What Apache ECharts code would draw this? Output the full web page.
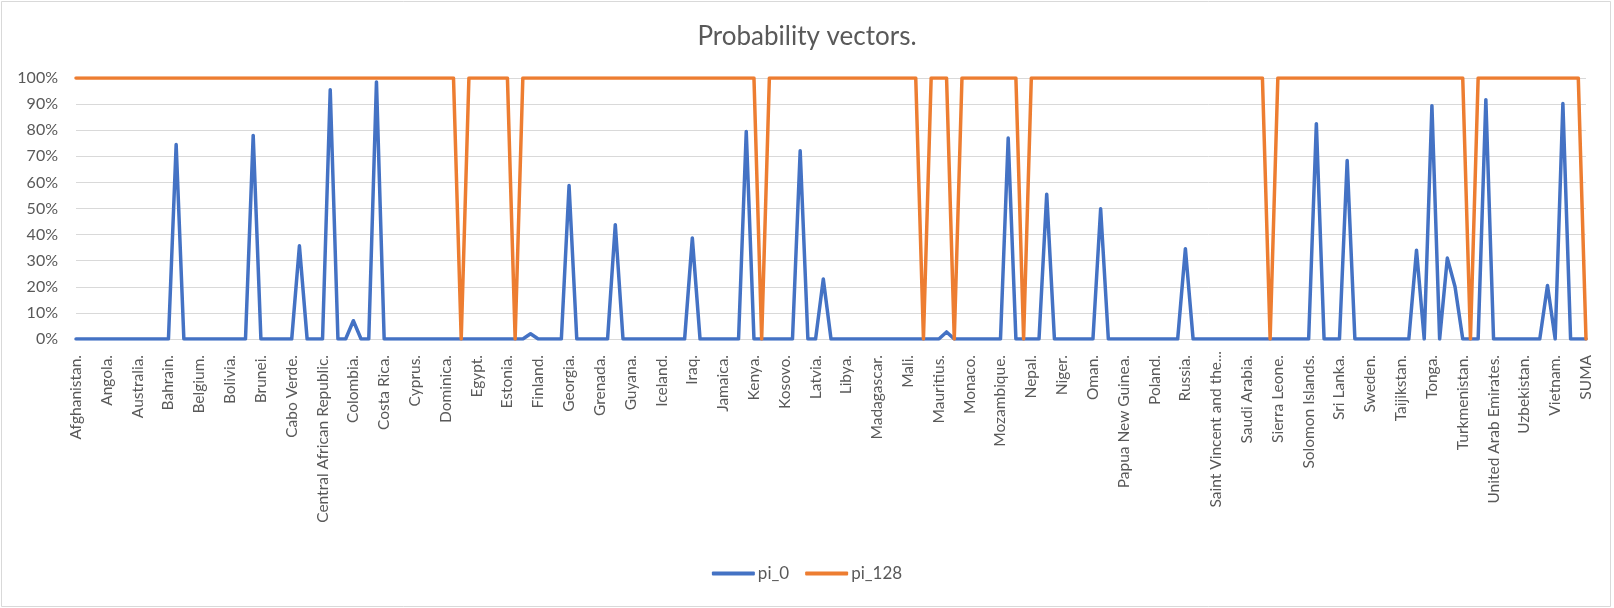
<!DOCTYPE html>
<html>
<head>
<meta charset="utf-8">
<script src="https://cdn.jsdelivr.net/npm/echarts@6/dist/echarts.min.js"></script>
<style>
  html, body { margin: 0; padding: 0; background: #fff; }
  #chart { width: 1614px; height: 608px; }
</style>
</head>
<body>
<div id="chart"></div>
<script>
// countries (every 4th one is labelled on the axis)
const countries = [
  'Afghanistan.', 'Albania.', 'Algeria.', 'Andorra.', 'Angola.', 'Antigua and Barbuda.', 'Argentina.', 'Armenia.', 'Australia.', 'Austria.',
  'Azerbaijan.', 'Bahamas.', 'Bahrain.', 'Bangladesh.', 'Barbados.', 'Belarus.', 'Belgium.', 'Belize.', 'Benin.', 'Bhutan.',
  'Bolivia.', 'Bosnia and Herzegovina.', 'Botswana.', 'Brazil.', 'Brunei.', 'Bulgaria.', 'Burkina Faso.', 'Burundi.', 'Cabo Verde.', 'Cambodia.',
  'Cameroon.', 'Canada.', 'Central African Republic.', 'Chad.', 'Chile.', 'China.', 'Colombia.', 'Comoros.', 'Congo (Brazzaville).', 'Congo (Kinshasa).',
  'Costa Rica.', 'Cote d\'Ivoire.', 'Croatia.', 'Cuba.', 'Cyprus.', 'Czechia.', 'Denmark.', 'Djibouti.', 'Dominica.', 'Dominican Republic.',
  'East Timor.', 'Ecuador.', 'Egypt.', 'El Salvador.', 'Equatorial Guinea.', 'Eritrea.', 'Estonia.', 'Eswatini.', 'Ethiopia.', 'Fiji.',
  'Finland.', 'France.', 'Gabon.', 'Gambia.', 'Georgia.', 'Germany.', 'Ghana.', 'Greece.', 'Grenada.', 'Guatemala.',
  'Guinea.', 'Guinea-Bissau.', 'Guyana.', 'Haiti.', 'Honduras.', 'Hungary.', 'Iceland.', 'India.', 'Indonesia.', 'Iran.',
  'Iraq.', 'Ireland.', 'Israel.', 'Italy.', 'Jamaica.', 'Japan.', 'Jordan.', 'Kazakhstan.', 'Kenya.', 'Kiribati.',
  'Korea, North.', 'Korea, South.', 'Kosovo.', 'Kuwait.', 'Kyrgyzstan.', 'Laos.', 'Latvia.', 'Lebanon.', 'Lesotho.', 'Liberia.',
  'Libya.', 'Liechtenstein.', 'Lithuania.', 'Luxembourg.', 'Madagascar.', 'Malawi.', 'Malaysia.', 'Maldives.', 'Mali.', 'Malta.',
  'Marshall Islands.', 'Mauritania.', 'Mauritius.', 'Mexico.', 'Micronesia.', 'Moldova.', 'Monaco.', 'Mongolia.', 'Montenegro.', 'Morocco.',
  'Mozambique.', 'Myanmar.', 'Namibia.', 'Nauru.', 'Nepal.', 'Netherlands.', 'New Zealand.', 'Nicaragua.', 'Niger.', 'Nigeria.',
  'North Macedonia.', 'Norway.', 'Oman.', 'Pakistan.', 'Palau.', 'Panama.', 'Papua New Guinea.', 'Paraguay.', 'Peru.', 'Philippines.',
  'Poland.', 'Portugal.', 'Qatar.', 'Romania.', 'Russia.', 'Rwanda.', 'Saint Kitts and Nevis.', 'Saint Lucia.', 'Saint Vincent and the Grenadines.', 'Samoa.',
  'San Marino.', 'Sao Tome and Principe.', 'Saudi Arabia.', 'Senegal.', 'Serbia.', 'Seychelles.', 'Sierra Leone.', 'Singapore.', 'Slovakia.', 'Slovenia.',
  'Solomon Islands.', 'Somalia.', 'South Africa.', 'Spain.', 'Sri Lanka.', 'State of Palestine.', 'Sudan.', 'Suriname.', 'Sweden.', 'Switzerland.',
  'Syria.', 'Taiwan.', 'Taijikstan.', 'Tanzania.', 'Thailand.', 'Togo.', 'Tonga.', 'Trinidad and Tobago.', 'Tunisia.', 'Turkey.',
  'Turkmenistan.', 'Tuvalu.', 'Uganda.', 'Ukraine.', 'United Arab Emirates.', 'United Kingdom.', 'United States.', 'Uruguay.', 'Uzbekistan.', 'Vanuatu.',
  'Vatican City.', 'Venezuela.', 'Vietnam.', 'Yemen.', 'Zambia.', 'Zimbabwe.', 'SUMA'
]

// pi_0 (fractions)
const pi0 = [
  0, 0, 0, 0, 0, 0, 0, 0, 0, 0,
  0, 0, 0, 0.745, 0, 0, 0, 0, 0, 0,
  0, 0, 0, 0.78, 0, 0, 0, 0, 0, 0.357,
  0, 0, 0, 0.955, 0, 0, 0.07, 0, 0, 0.985,
  0, 0, 0, 0, 0, 0, 0, 0, 0, 0,
  0, 0, 0, 0, 0, 0, 0, 0, 0, 0.02,
  0, 0, 0, 0, 0.588, 0, 0, 0, 0, 0,
  0.438, 0, 0, 0, 0, 0, 0, 0, 0, 0,
  0.387, 0, 0, 0, 0, 0, 0, 0.795, 0, 0,
  0, 0, 0, 0, 0.721, 0, 0, 0.23, 0, 0,
  0, 0, 0, 0, 0, 0, 0, 0, 0, 0,
  0, 0, 0, 0.027, 0, 0, 0, 0, 0, 0,
  0, 0.77, 0, 0, 0, 0, 0.555, 0, 0, 0,
  0, 0, 0, 0.499, 0, 0, 0, 0, 0, 0,
  0, 0, 0, 0, 0.346, 0, 0, 0, 0, 0,
  0, 0, 0, 0, 0, 0, 0, 0, 0, 0,
  0, 0.825, 0, 0, 0, 0.684, 0, 0, 0, 0,
  0, 0, 0, 0, 0.34, 0, 0.894, 0, 0.31, 0.2,
  0, 0, 0, 0.917, 0, 0, 0, 0, 0, 0,
  0, 0.205, 0, 0.902, 0, 0, 0
]

// pi_128
const pi128 = [
  1, 1, 1, 1, 1, 1, 1, 1, 1, 1,
  1, 1, 1, 1, 1, 1, 1, 1, 1, 1,
  1, 1, 1, 1, 1, 1, 1, 1, 1, 1,
  1, 1, 1, 1, 1, 1, 1, 1, 1, 1,
  1, 1, 1, 1, 1, 1, 1, 1, 1, 1,
  0, 1, 1, 1, 1, 1, 1, 0, 1, 1,
  1, 1, 1, 1, 1, 1, 1, 1, 1, 1,
  1, 1, 1, 1, 1, 1, 1, 1, 1, 1,
  1, 1, 1, 1, 1, 1, 1, 1, 1, 0,
  1, 1, 1, 1, 1, 1, 1, 1, 1, 1,
  1, 1, 1, 1, 1, 1, 1, 1, 1, 1,
  0, 1, 1, 1, 0, 1, 1, 1, 1, 1,
  1, 1, 1, 0, 1, 1, 1, 1, 1, 1,
  1, 1, 1, 1, 1, 1, 1, 1, 1, 1,
  1, 1, 1, 1, 1, 1, 1, 1, 1, 1,
  1, 1, 1, 1, 1, 0, 1, 1, 1, 1,
  1, 1, 1, 1, 1, 1, 1, 1, 1, 1,
  1, 1, 1, 1, 1, 1, 1, 1, 1, 1,
  1, 0, 1, 1, 1, 1, 1, 1, 1, 1,
  1, 1, 1, 1, 1, 1, 0
]

const seriesNames = ['pi_0', 'pi_128']
const chartTitle = 'Probability vectors.'

const font = 'Lato, "Liberation Sans", sans-serif'
const grey = '#595959'

var myChart = echarts.init(document.getElementById('chart'))

var option = {
  animation: false,
  backgroundColor: '#fff',
  title: {
    text: chartTitle,
    left: 'center',
    top: 19,
    textStyle: { fontFamily: font, fontSize: 26, fontWeight: 'normal', color: grey }
  },
  legend: {
    bottom: 21,
    left: 'center',
    icon: 'roundRect',
    itemWidth: 43,
    itemHeight: 4,
    itemGap: 16,
    data: seriesNames,
    textStyle: { fontFamily: font, fontSize: 17, color: grey, padding: [0, 0, 0, -2] }
  },
  grid: { left: 76, right: 28, top: 78, height: 261 },
  xAxis: {
    type: 'category',
    data: countries,
    boundaryGap: false,
    axisTick: { show: false },
    axisLine: { lineStyle: { color: '#d9d9d9', width: 1 } },
    axisLabel: {
      interval: 3,
      rotate: 90,
      margin: 12,
      fontFamily: font,
      fontSize: 15.5,
      color: grey,
      formatter: function (v) {
        // excel cuts very long labels
        return v.length > 26 ? v.slice(0, 21) + '...' : v + ' '
      }
    }
  },
  yAxis: {
    type: 'value',
    min: 0,
    max: 1,
    interval: 0.1,
    axisLine: { show: false },
    axisTick: { show: false },
    splitLine: { lineStyle: { color: '#d9d9d9', width: 1 } },
    axisLabel: {
      margin: 18,
      fontFamily: font,
      fontSize: 16,
      color: grey,
      formatter: function (v) { return Math.round(v * 100) + '%' }
    }
  },
  series: [
    {
      name: seriesNames[0],
      type: 'line',
      data: pi0,
      symbol: 'none',
      color: '#4472C4',
      lineStyle: { width: 3.5, color: '#4472C4', cap: 'round', join: 'round' }
    },
    {
      name: seriesNames[1],
      type: 'line',
      data: pi128,
      symbol: 'none',
      color: '#ED7D31',
      lineStyle: { width: 3.5, color: '#ED7D31', cap: 'round', join: 'round' }
    }
  ],
  graphic: [{
    type: 'rect',
    silent: true,
    z: -10,
    shape: { x: 1.5, y: 1.5, width: 1609, height: 605 },
    style: { fill: 'none', stroke: '#d9d9d9', lineWidth: 1 }
  }]
}

option && myChart.setOption(option)
</script>
</body>
</html>
